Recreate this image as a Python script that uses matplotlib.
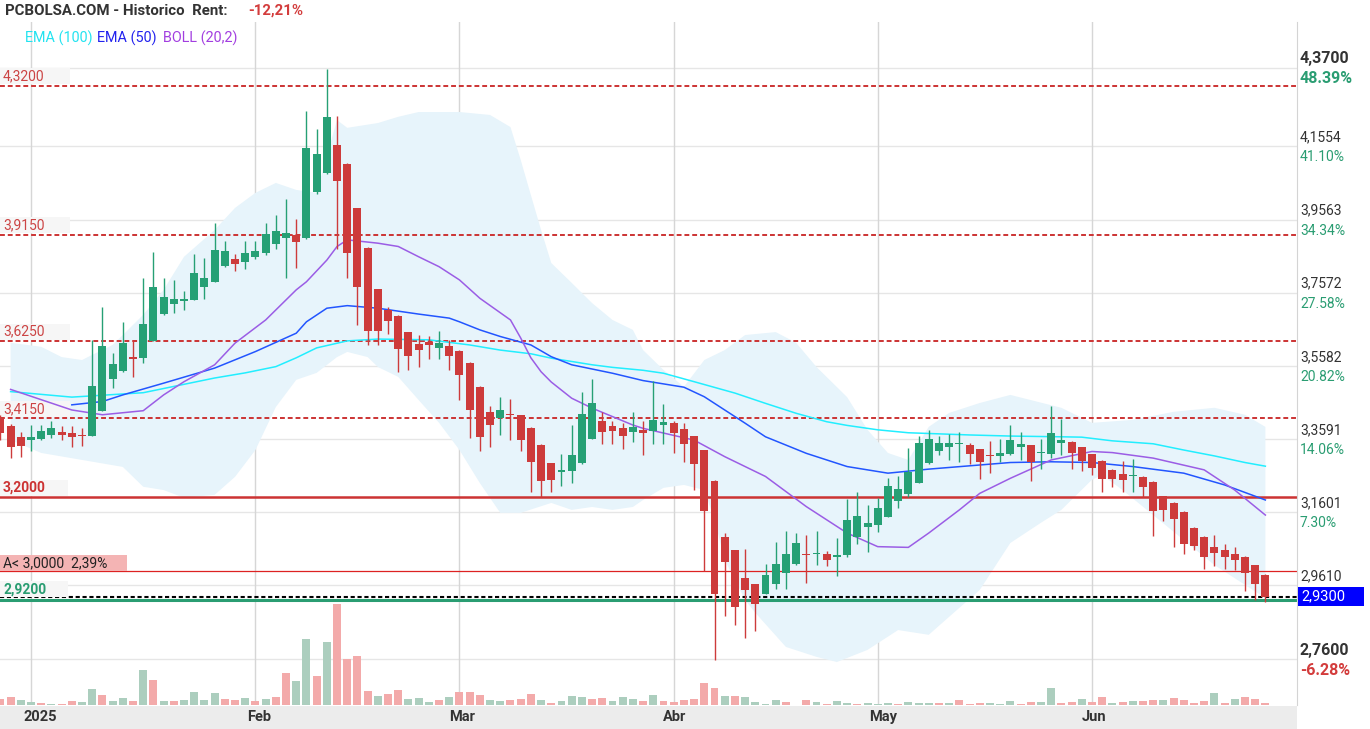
import numpy as np
import matplotlib
matplotlib.use('Agg')
import matplotlib.pyplot as plt
from matplotlib.patches import Rectangle
from matplotlib.transforms import blended_transform_factory

plt.rcParams['font.family'] = ['Roboto', 'DejaVu Sans']

# velas diarias: 27 dic 2024 .. 25 jun 2025 (indice = sesion)
aperturas = [3.416, 3.395, 3.364, 3.355, 3.359, 3.371, 3.378, 3.376, 3.370, 3.368,
             3.436, 3.523, 3.545, 3.583, 3.579, 3.626, 3.699, 3.726, 3.734, 3.736,
             3.774, 3.785, 3.830, 3.849, 3.842, 3.855, 3.864, 3.891, 3.907, 3.914,
             3.907, 4.030, 4.083, 4.159, 4.108, 3.988, 3.879, 3.768, 3.710, 3.694,
             3.651, 3.618, 3.623, 3.608, 3.612, 3.599, 3.566, 3.501, 3.433, 3.417,
             3.427, 3.425, 3.389, 3.343, 3.294, 3.270, 3.273, 3.295, 3.360, 3.408,
             3.395, 3.389, 3.379, 3.384, 3.382, 3.398, 3.403, 3.386, 3.367, 3.329,
             3.245, 3.092, 3.057, 2.981, 2.965, 2.938, 2.965, 2.993, 3.020, 3.047,
             3.047, 3.046, 3.039, 3.042, 3.091, 3.120, 3.126, 3.148, 3.189, 3.208,
             3.238, 3.295, 3.327, 3.338, 3.345, 3.343, 3.332, 3.316, 3.314, 3.319,
             3.338, 3.343, 3.320, 3.319, 3.349, 3.351, 3.337, 3.318, 3.299, 3.275,
             3.264, 3.257, 3.256, 3.242, 3.204, 3.185, 3.160, 3.117, 3.092, 3.065,
             3.057, 3.046, 3.038, 3.016, 2.989]
maximos = [3.424, 3.400, 3.379, 3.397, 3.397, 3.408, 3.395, 3.395, 3.389, 3.629,
           3.719, 3.593, 3.678, 3.627, 3.797, 3.867, 3.797, 3.792, 3.762, 3.863,
           3.852, 3.946, 3.898, 3.863, 3.898, 3.898, 3.947, 3.969, 4.012, 3.958,
           4.252, 4.203, 4.366, 4.238, 4.110, 3.988, 3.882, 3.768, 3.719, 3.697,
           3.651, 3.642, 3.640, 3.653, 3.629, 3.601, 3.569, 3.503, 3.449, 3.474,
           3.468, 3.425, 3.392, 3.346, 3.294, 3.318, 3.397, 3.487, 3.522, 3.433,
           3.408, 3.403, 3.433, 3.408, 3.517, 3.454, 3.408, 3.403, 3.367, 3.329,
           3.248, 3.103, 3.057, 3.060, 2.965, 3.019, 3.079, 3.109, 3.103, 3.098,
           3.109, 3.054, 3.090, 3.196, 3.215, 3.180, 3.199, 3.253, 3.258, 3.335,
           3.367, 3.384, 3.367, 3.373, 3.378, 3.348, 3.332, 3.354, 3.359, 3.397,
           3.378, 3.343, 3.359, 3.449, 3.413, 3.354, 3.337, 3.318, 3.302, 3.278,
           3.299, 3.305, 3.258, 3.245, 3.204, 3.188, 3.163, 3.120, 3.095, 3.098,
           3.073, 3.065, 3.041, 3.016, 2.992]
minimos = [3.356, 3.307, 3.311, 3.327, 3.356, 3.363, 3.356, 3.336, 3.340, 3.368,
           3.434, 3.498, 3.542, 3.527, 3.567, 3.626, 3.697, 3.701, 3.710, 3.736,
           3.741, 3.785, 3.828, 3.817, 3.821, 3.848, 3.861, 3.877, 3.796, 3.825,
           3.904, 4.027, 4.081, 3.877, 3.796, 3.668, 3.616, 3.616, 3.646, 3.542,
           3.548, 3.556, 3.578, 3.578, 3.548, 3.466, 3.363, 3.327, 3.336, 3.371,
           3.357, 3.327, 3.216, 3.200, 3.216, 3.232, 3.238, 3.292, 3.360, 3.346,
           3.346, 3.333, 3.352, 3.316, 3.346, 3.346, 3.322, 3.297, 3.221, 2.999,
           2.758, 2.878, 2.854, 2.818, 2.837, 2.938, 2.952, 2.952, 3.017, 2.968,
           3.017, 3.012, 2.987, 3.039, 3.072, 3.052, 3.107, 3.148, 3.172, 3.202,
           3.238, 3.292, 3.316, 3.303, 3.297, 3.292, 3.251, 3.267, 3.297, 3.316,
           3.303, 3.246, 3.276, 3.306, 3.316, 3.276, 3.273, 3.262, 3.216, 3.227,
           3.216, 3.216, 3.202, 3.096, 3.137, 3.066, 3.047, 3.058, 3.006, 3.012,
           3.006, 3.003, 2.946, 2.922, 2.914]
cierres = [3.376, 3.336, 3.340, 3.365, 3.381, 3.389, 3.371, 3.365, 3.367, 3.502,
           3.613, 3.563, 3.621, 3.576, 3.672, 3.773, 3.746, 3.740, 3.741, 3.812,
           3.797, 3.874, 3.871, 3.834, 3.865, 3.871, 3.917, 3.925, 3.920, 3.896,
           4.151, 4.135, 4.236, 4.060, 3.866, 3.774, 3.654, 3.654, 3.681, 3.605,
           3.586, 3.600, 3.615, 3.621, 3.586, 3.534, 3.439, 3.365, 3.398, 3.438,
           3.423, 3.355, 3.297, 3.246, 3.248, 3.275, 3.316, 3.427, 3.457, 3.379,
           3.382, 3.368, 3.392, 3.376, 3.412, 3.405, 3.374, 3.346, 3.292, 3.164,
           2.938, 3.023, 2.903, 2.949, 2.911, 2.989, 3.019, 3.046, 3.076, 3.044,
           3.049, 3.031, 3.041, 3.139, 3.150, 3.131, 3.171, 3.231, 3.223, 3.269,
           3.348, 3.359, 3.348, 3.348, 3.346, 3.319, 3.297, 3.313, 3.321, 3.356,
           3.346, 3.297, 3.322, 3.376, 3.356, 3.322, 3.300, 3.281, 3.251, 3.251,
           3.248, 3.258, 3.229, 3.164, 3.167, 3.140, 3.074, 3.069, 3.039, 3.050,
           3.039, 3.031, 2.993, 2.965, 2.930]

# volumen (unidades relativas) y color de cada barra
volumen = [6, 8, 5, 3, 2, 1, 1, 4, 3, 16,
           10, 4, 7, 4, 35, 25, 4, 4, 5, 13,
           5, 12, 6, 5, 7, 4, 6, 8, 32, 24,
           66, 29, 63, 101, 46, 49, 14, 9, 11, 15,
           6, 7, 3, 5, 8, 13, 13, 10, 5, 4,
           5, 6, 11, 5, 2, 4, 9, 8, 6, 7,
           4, 8, 6, 4, 10, 4, 3, 5, 6, 22,
           17, 9, 9, 8, 3, 1, 5, 3, 0.3, 5,
           3, 1, 4, 2, 1, 2, 1, 2, 1, 3,
           2, 2, 2, 2, 5, 1, 2, 2, 1, 4,
           1, 3, 3, 17, 2, 3, 6, 3, 8, 2,
           3, 4, 4, 5, 5, 7, 5, 2, 4, 12,
           2, 6, 8, 6, 2]
vol_color = list('rrggrgrrgg' 'rggrgrgrgg' 'ggrrgrgrrg' 'grgrrrrgrr' 'gggrgrrrgg'
                 'rrrgrgggrr' 'gggrgrrrrr' 'rgrggggrgr' 'grggrgggrg' 'ggrgrrrggg'
                 'rrggrrgrrg' 'rgrrgrrrrg' 'rgrrr')

# indicadores
ema100_x = [1, 7, 14, 21, 24, 27, 29, 31, 34, 37, 42, 46, 49, 52, 54, 58, 60, 63, 65,
            68, 72, 75, 78, 81, 83, 86, 89, 92, 95, 99, 104, 106, 109, 113, 116, 119, 122, 124]
ema100 = [3.488, 3.473, 3.485, 3.525, 3.539, 3.556, 3.580, 3.607, 3.626, 3.631, 3.629,
          3.615, 3.601, 3.591, 3.579, 3.561, 3.554, 3.546, 3.538, 3.515, 3.484, 3.456,
          3.429, 3.406, 3.396, 3.384, 3.376, 3.373, 3.370, 3.367, 3.365, 3.364, 3.354,
          3.346, 3.329, 3.313, 3.295, 3.285]
ema50_x = [7, 10, 12, 16, 21, 25, 29, 30, 32, 34, 37, 41, 44, 45, 47, 49, 52, 54, 56,
           60, 63, 67, 69, 71, 73, 75, 79, 83, 87, 91, 95, 99, 103, 107, 111, 116, 120, 124]
ema50 = [3.452, 3.461, 3.479, 3.511, 3.552, 3.597, 3.647, 3.678, 3.715, 3.722, 3.715,
         3.699, 3.688, 3.678, 3.656, 3.638, 3.615, 3.583, 3.561, 3.538, 3.518, 3.500,
         3.474, 3.438, 3.402, 3.365, 3.320, 3.284, 3.266, 3.277, 3.286, 3.295, 3.297,
         3.295, 3.284, 3.266, 3.234, 3.193]
boll_mid_x = [1, 7, 10, 14, 16, 18, 21, 23, 26, 29, 30, 32, 33, 34, 37, 39, 41, 43, 45,
              47, 50, 51, 52, 53, 54, 56, 58, 60, 62, 63, 68, 71, 75, 79, 83, 86, 89,
              91, 94, 96, 99, 103, 107, 109, 113, 118, 121, 124]
boll_mid = [3.494, 3.438, 3.425, 3.436, 3.479, 3.515, 3.561, 3.620, 3.683, 3.765, 3.787,
            3.846, 3.883, 3.901, 3.892, 3.883, 3.855, 3.828, 3.792, 3.742, 3.683, 3.634,
            3.580, 3.542, 3.514, 3.470, 3.443, 3.420, 3.397, 3.388, 3.356, 3.311, 3.257,
            3.175, 3.103, 3.066, 3.064, 3.103, 3.166, 3.211, 3.252, 3.302, 3.325, 3.322,
            3.307, 3.275, 3.220, 3.152]
boll_up_x = [1, 4, 6, 8, 9, 11, 12, 14, 16, 18, 21, 23, 25, 27, 29, 31, 32, 33, 34, 37,
             39, 41, 45, 48, 50, 51, 52, 53, 54, 56, 58, 60, 62, 63, 65, 67, 69, 71, 73,
             76, 78, 80, 83, 85, 87, 89, 91, 93, 96, 99, 101, 104, 107, 111, 115, 119,
             122, 124]
boll_up = [3.621, 3.610, 3.582, 3.574, 3.588, 3.615, 3.642, 3.697, 3.765, 3.855, 3.928,
           3.988, 4.029, 4.056, 4.037, 4.029, 4.130, 4.227, 4.206, 4.219, 4.236, 4.249,
           4.249, 4.241, 4.208, 4.119, 4.023, 3.928, 3.838, 3.784, 3.729, 3.683, 3.656,
           3.601, 3.547, 3.501, 3.574, 3.601, 3.642, 3.650, 3.621, 3.555, 3.473, 3.384,
           3.321, 3.302, 3.392, 3.430, 3.457, 3.479, 3.465, 3.444, 3.403, 3.411, 3.433,
           3.444, 3.425, 3.392]
boll_lo_x = [1, 4, 8, 12, 14, 16, 18, 21, 23, 25, 27, 29, 31, 33, 34, 36, 37, 39, 41,
             43, 45, 47, 49, 51, 54, 56, 58, 60, 62, 63, 65, 67, 69, 70, 71, 73, 74, 77,
             80, 82, 85, 88, 91, 93, 96, 99, 102, 104, 107, 108, 110, 113, 116, 119,
             122, 124]
boll_lo = [3.356, 3.321, 3.302, 3.283, 3.229, 3.220, 3.199, 3.207, 3.256, 3.329, 3.446,
           3.520, 3.539, 3.582, 3.596, 3.582, 3.555, 3.528, 3.465, 3.403, 3.329, 3.239,
           3.158, 3.158, 3.185, 3.166, 3.174, 3.166, 3.174, 3.193, 3.226, 3.234, 3.220,
           3.139, 3.030, 2.921, 2.886, 2.793, 2.766, 2.752, 2.785, 2.839, 2.826, 2.875,
           2.948, 3.076, 3.131, 3.166, 3.248, 3.261, 3.220, 3.152, 3.084, 3.016, 2.962,
           2.926]

# ejes
meses_x = [3, 25, 45, 66, 86, 107]
meses = ['2025', 'Feb', 'Mar', 'Abr', 'May', 'Jun']
meses_dx = [9, 4, 3, 1, 5, 2]  # desplazamiento del texto en pixeles
ticks = [4.37, 4.1554, 3.9563, 3.7572, 3.5582, 3.3591, 3.1601, 2.961, 2.76]
ticks_txt = ['4,3700', '4,1554', '3,9563', '3,7572', '3,5582', '3,3591', '3,1601', '2,9610', '2,7600']
ticks_pct = ['48.39%', '41.10%', '34.34%', '27.58%', '20.82%', '14.06%', '7.30%', '', '-6.28%']
niveles = [4.32, 3.915, 3.625, 3.415]
niveles_txt = ['4,3200', '3,9150', '3,6250', '3,4150']

VERDE = '#26a075'
ROJO = '#cd3b3b'

fig = plt.figure(figsize=(13.7, 7.29), dpi=100)
rect = [0, 24 / 729, 1297 / 1370, 683 / 729]
ax = fig.add_axes(rect)
axv = fig.add_axes(rect, sharex=ax)
axv.patch.set_visible(False)
axv.axis('off')

ax.set_xlim(-0.04, 127.1)
ax.set_ylim(2.635, 4.494)
ax.set_xticks([])
ax.set_yticks([])
for s in ['top', 'left', 'bottom']:
    ax.spines[s].set_visible(False)
ax.spines['right'].set_color('#d4d4d4')

tr = blended_transform_factory(ax.transAxes, ax.transData)
trx = blended_transform_factory(ax.transData, ax.transAxes)

# rejilla
for v in ticks:
    ax.axhline(v, color='#e6e6e6', lw=1, zorder=0.5)
for m in meses_x:
    ax.axvline(m, color='#d6d6d6', lw=1, zorder=0.5)

# bandas de bollinger
bx = list(boll_up_x) + list(boll_lo_x)[::-1]
by = list(boll_up) + list(boll_lo)[::-1]
ax.fill(bx, by, color='#e7f4fb', lw=0, zorder=1)

# niveles
for v in niveles:
    ax.axhline(v, color='#cc3333', lw=1.4, ls=(0, (2.5, 1.5)), zorder=2)
ax.axhline(3.2, color='#cc3333', lw=1.8, zorder=2)
ax.axhline(3.0, color='#dd2222', lw=0.9, zorder=2)
ax.axhline(2.92, color='#2a9d72', lw=2.2, zorder=2)
ax.axhline(2.93, color='black', lw=1.5, ls=(0, (2, 1.3)), zorder=2.1)


def etiqueta(nivel, texto, color, fondo, ancho, peso='normal', y0=0.004, alto=0.044):
    ax.add_patch(Rectangle((0, nivel + y0), ancho / 1297, alto, transform=tr,
                           facecolor=fondo, edgecolor='none', zorder=2.5))
    ax.text(3 / 1297, nivel + y0 + alto / 2, texto, transform=tr, color=color,
            fontsize=10, fontweight=peso, va='center', ha='left', zorder=3)


for v, t in zip(niveles, niveles_txt):
    etiqueta(v, t, '#cc4444', '#f6f6f6', 70)
etiqueta(3.2, '3,2000', '#cc3333', '#f6f6f6', 68, 'bold')
etiqueta(3.0, 'A< 3,0000  2,39%', '#222222', '#f4b4b4', 127, y0=0.0)
etiqueta(2.92, '2,9200', '#2a9d72', '#f6f6f6', 68, 'bold', y0=0.008)

# medias
ax.plot(ema100_x, ema100, color='#22eeff', lw=1.1, zorder=3)
ax.plot(ema50_x, ema50, color='#2255ff', lw=1.1, zorder=3)
ax.plot(boll_mid_x, boll_mid, color='#9b5de5', lw=1.1, zorder=3)

# velas
x = np.arange(len(cierres))
o = np.array(aperturas)
c = np.array(cierres)
col = np.where(c >= o, VERDE, ROJO)
ax.vlines(x, minimos, maximos, colors=col, lw=1, zorder=4)
alto = np.maximum(np.abs(c - o), 0.003)
ax.bar(x, alto, bottom=np.minimum(o, c), width=0.78, color=col, zorder=5)

# volumen
vcol = ['#accebe' if k == 'g' else '#f3aaaa' for k in vol_color]
axv.bar(x, volumen, width=0.78, color=vcol)
axv.set_ylim(0, max(volumen) * 683 / 101)

# escala derecha
for v, t, p, i in zip(ticks, ticks_txt, ticks_pct, range(len(ticks))):
    extremo = i == 0 or i == len(ticks) - 1
    peso = 'bold' if extremo else 'normal'
    tam = 11.5 if extremo else 10
    ax.annotate(t, xy=(1, v), xycoords=tr, xytext=(3, 9), textcoords='offset pixels',
                ha='left', va='center', fontsize=tam, color='#333333', fontweight=peso,
                annotation_clip=False)
    pc = '#d33c3c' if p.startswith('-') else '#2a9d72'
    ax.annotate(p, xy=(1, v), xycoords=tr, xytext=(3, -11), textcoords='offset pixels',
                ha='left', va='center', fontsize=tam, color=pc, fontweight=peso,
                annotation_clip=False)

ax.add_patch(Rectangle((1 + 1 / 1297, 2.93 - 0.025), 66 / 1297, 0.05, transform=tr,
                       facecolor='#0000ff', edgecolor='none', clip_on=False, zorder=6))
ax.annotate('2,9300', xy=(1, 2.93), xycoords=tr, xytext=(4, 0), textcoords='offset pixels',
            ha='left', va='center', fontsize=10.5, color='white', zorder=7,
            annotation_clip=False)

# eje x
fig.add_artist(Rectangle((0, 0), 1297 / 1370, 23 / 729, transform=fig.transFigure,
                         facecolor='#ececec', edgecolor='none', zorder=-1))
for m, t, d in zip(meses_x, meses, meses_dx):
    ax.annotate(t, xy=(m, 0), xycoords=trx, xytext=(d, -12), textcoords='offset pixels',
                ha='center', va='center', fontsize=10.5, fontweight='bold', color='#333333',
                annotation_clip=False)

# cabecera y leyenda
fig.text(5 / 1370, 1 - 11 / 729, 'PCBOLSA.COM - Historico  Rent:', fontsize=10.8,
         fontweight='bold', color='#333333', va='center', ha='left')
fig.text(248 / 1370, 1 - 11 / 729, '-12,21%', fontsize=10.8, fontweight='bold',
         color='#d33c3c', va='center', ha='left')
fig.text(25 / 1370, 1 - 38 / 729, 'EMA (100)', fontsize=10.4, color='#22e3f0', va='center')
fig.text(97 / 1370, 1 - 38 / 729, 'EMA (50)', fontsize=10.4, color='#2222ee', va='center')
fig.text(163 / 1370, 1 - 38 / 729, 'BOLL (20,2)', fontsize=10.4, color='#a23ee0', va='center')

fig.savefig('out.png', dpi=100)
